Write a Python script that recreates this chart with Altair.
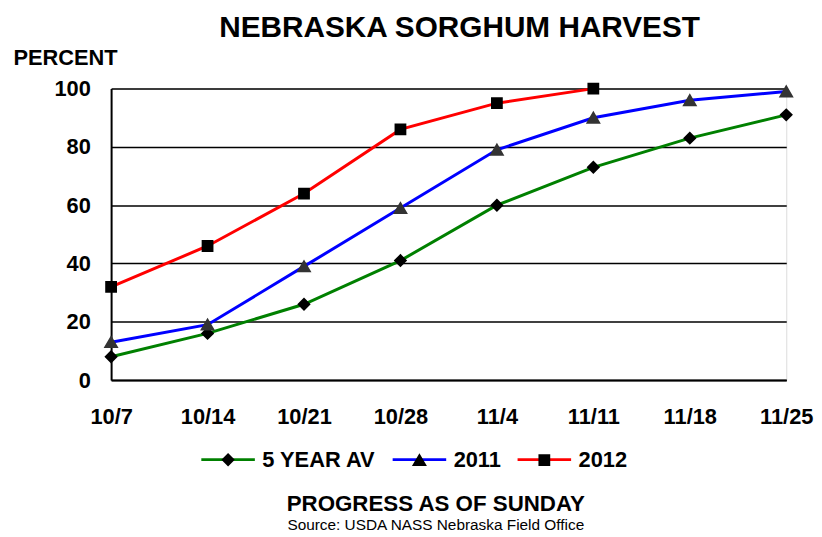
import altair as alt
import pandas as pd

# ---- data ----
dates = ["10/7", "10/14", "10/21", "10/28", "11/4", "11/11", "11/18", "11/25"]
series_names = ["5 YEAR AV", "2011", "2012"]
avg5 = [8, 16, 26, 41, 60, 73, 83, 91]
y2011 = [13, 19, 39, 59, 79, 90, 96, 99]
y2012 = [32, 46, 64, 86, 95, 100, None, None]
y_ticks = [0, 20, 40, 60, 80, 100]

line_colors = ["#008000", "#0000FF", "#FF0000"]
marker_fills = ["#000000", "#333333", "#000000"]
# custom marker paths (with an unfilled, unstroked guide line so legend entries line up)
marker_paths = [
    "M-1,0H1M0,-0.25L0.25,0L0,0.25L-0.25,0Z",
    "M-1,0H1M0,-0.26L0.28,0.22L-0.28,0.22Z",
    "M-1,0H1M-0.22,-0.22H0.22V0.22H-0.22Z",
]

rows = []
for name, vals in zip(series_names, [avg5, y2011, y2012]):
    for d, v in zip(dates, vals):
        if v is not None:
            rows.append({"date": d, "value": v, "series": name, "marker": name})
df = pd.DataFrame(rows)

FONT = "Liberation Sans"
SYM = 2916  # symbol area -> 54 px wide

x_enc = alt.X(
    "date:N",
    sort=dates,
    scale=alt.Scale(type="point", padding=0),
    axis=alt.Axis(
        labelAngle=0, ticks=False, grid=False, domainColor="black", domainWidth=2,
        labelFontSize=22, labelFontWeight="bold", labelFont=FONT, labelColor="black",
        labelPadding=27, title=None,
    ),
)
y_enc = alt.Y(
    "value:Q",
    scale=alt.Scale(domain=[0, 100], nice=False),
    axis=alt.Axis(
        values=y_ticks, grid=True, gridColor="black", gridWidth=1.5,
        domainColor="black", domainWidth=2, ticks=False,
        labelFontSize=22, labelFontWeight="bold", labelFont=FONT, labelColor="black",
        labelPadding=21,
        title="PERCENT", titleAngle=0, titleAlign="left", titleBaseline="alphabetic",
        titleX=-99, titleY=-24, titleFontSize=22, titleFontWeight="bold",
        titleFont=FONT, titleColor="black",
    ),
)

leg_common = dict(
    orient="none", legendX=89.5, legendY=345.5, direction="horizontal", title=None,
    symbolSize=SYM, symbolStrokeWidth=3, labelFontSize=22, labelFontWeight="bold",
    labelFont=FONT, labelOffset=6, columnPadding=10, padding=0,
)

lines = alt.Chart(df).mark_line(strokeWidth=3).encode(
    x=x_enc,
    y=y_enc,
    color=alt.Color(
        "series:N",
        scale=alt.Scale(domain=series_names, range=line_colors),
        legend=alt.Legend(symbolType="stroke", labelColor="black", zindex=0, **leg_common),
    ),
)

points = alt.Chart(df).mark_point(filled=True, size=SYM, opacity=1, strokeWidth=0).encode(
    x=x_enc,
    y=y_enc,
    shape=alt.Shape(
        "marker:N", sort=series_names,
        scale=alt.Scale(range=marker_paths),
        legend=alt.Legend(labelOpacity=0, symbolFillColor="black",
                          symbolStrokeColor="transparent", zindex=1, **leg_common),
    ),
    fill=alt.Fill(
        "marker:N", sort=series_names,
        scale=alt.Scale(range=marker_fills),
        legend=None,
    ),
)

inner = alt.layer(lines, points).properties(
    width=681,
    height=294,
    title=alt.TitleParams(
        text="PROGRESS AS OF SUNDAY",
        subtitle="Source: USDA NASS Nebraska Field Office",
        orient="bottom", anchor="middle", dx=-13, offset=66,
        fontSize=22.5, fontWeight="bold", font=FONT, color="black",
        subtitleFontSize=15.5, subtitleFont=FONT, subtitleColor="black",
        subtitleFontWeight="normal", subtitlePadding=3,
    ),
)

chart = alt.vconcat(inner).properties(
    title=alt.TitleParams(
        text="NEBRASKA SORGHUM HARVEST", anchor="middle", dx=47, offset=4,
        fontSize=30, fontWeight="bold", font=FONT, color="black",
    ),
    padding={"left": 4, "top": 2, "right": 0, "bottom": 0},
).configure_view(stroke="#808080", strokeWidth=1.5).configure(font=FONT, background="white")

chart.save("out.html", embed_options={"renderer": "svg", "actions": False})
